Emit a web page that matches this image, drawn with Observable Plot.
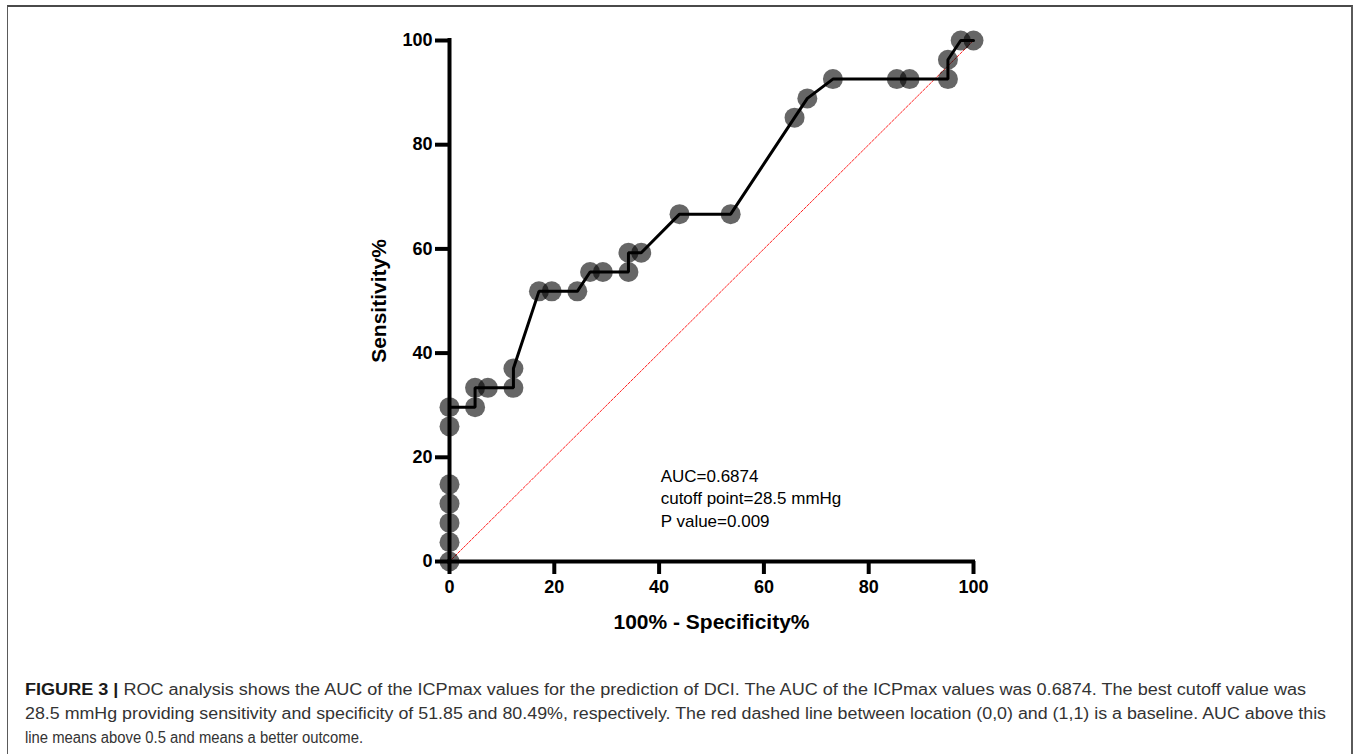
<!DOCTYPE html>
<html>
<head>
<meta charset="utf-8">
<script src="https://cdn.jsdelivr.net/npm/d3@7"></script>
<script src="https://cdn.jsdelivr.net/npm/@observablehq/plot@0.6"></script>
<style>
  html, body { margin: 0; padding: 0; background: #fff; width: 1357px; height: 754px; overflow: hidden; }
  #frame { position: absolute; left: 7px; top: 5px; width: 1346px; height: 800px;
           border-top: 2px solid #4a4a4a; border-left: 1.5px solid #5a5a5a; border-right: 2px solid #5a5a5a; box-sizing: border-box; }
  #chart { position: absolute; left: 0; top: 0; }
  .cap { position: absolute; left: 25px; white-space: nowrap; font-family: "Liberation Sans Narrow", "Arial Narrow", "Liberation Sans", Arial, sans-serif;
         font-size: 16px; color: #333; transform-origin: 0 50%; line-height: 20px; }
  .cap b { color: #1a1a1a; }
</style>
</head>
<body>
<div id="frame"></div>
<div id="chart"></div>
<div id="caption"></div>
<script>
// ROC curve points: 100% - Specificity% (x) and Sensitivity% (y)
const fpr = [0, 0, 0, 0, 0, 0, 0, 4.88, 4.88, 7.32, 12.2, 12.2, 17.07, 19.51, 24.39, 26.83, 29.27, 34.15, 34.15, 36.59, 43.9, 53.66, 65.85, 68.29, 73.17, 85.37, 87.8, 95.12, 95.12, 97.56, 100];
const tpr = [0, 3.7, 7.41, 11.11, 14.81, 25.93, 29.63, 29.63, 33.33, 33.33, 33.33, 37.04, 51.85, 51.85, 51.85, 55.56, 55.56, 55.56, 59.26, 59.26, 66.67, 66.67, 85.19, 88.89, 92.59, 92.59, 92.59, 92.59, 96.3, 100, 100];
const baseline = [0, 100];
const xTicks = [0, 20, 40, 60, 80, 100];
const yTicks = [0, 20, 40, 60, 80, 100];
const xTitle = "100% - Specificity%";
const yTitle = "Sensitivity%";
const annotLines = ["AUC=0.6874", "cutoff point=28.5 mmHg", "P value=0.009"];
const annotPos = {x: 40.3, y: 12.4};
const captionBold = "FIGURE 3 |";
const captionLines = [
  " ROC analysis shows the AUC of the ICPmax values for the prediction of DCI. The AUC of the ICPmax values was 0.6874. The best cutoff value was",
  "28.5 mmHg providing sensitivity and specificity of 51.85 and 80.49%, respectively. The red dashed line between location (0,0) and (1,1) is a baseline. AUC above this",
  "line means above 0.5 and means a better outcome."
];

const points = fpr.map((x, i) => ({x, y: tpr[i]}));

const font = "'Liberation Sans', Arial, Helvetica, sans-serif";
const chart = Plot.plot({
  width: 1357,
  height: 645,
  marginLeft: 449,
  marginRight: 384,
  marginTop: 40,
  marginBottom: 84,
  style: {fontFamily: font, background: "transparent", color: "black", overflow: "visible"},
  x: {domain: [0, 100]},
  y: {domain: [0, 100]},
  marks: [
    Plot.line(baseline, {x: d => d, y: d => d, stroke: "#ff2020", strokeWidth: 1, strokeDasharray: "2.5,1.5"}),
    Plot.line(points, {x: "x", y: "y", stroke: "black", strokeWidth: 3, strokeLinejoin: "miter"}),
    Plot.dot(points, {x: "x", y: "y", r: 10, fill: "black", fillOpacity: 0.6, stroke: "none"}),
    Plot.ruleX([0], {strokeWidth: 4, strokeLinecap: "square"}),
    Plot.ruleY([0], {strokeWidth: 4, strokeLinecap: "square"}),
    Plot.axisX({ticks: xTicks, tickSize: 13, tickPadding: 6, strokeWidth: 4, fontSize: 18, fontWeight: "bold", label: null, fill: "black"}),
    Plot.axisY({ticks: yTicks, tickSize: 14, tickPadding: 3, strokeWidth: 4, fontSize: 18, fontWeight: "bold", label: null, fill: "black"}),
    Plot.text([xTitle], {text: d => d, frameAnchor: "bottom", textAnchor: "middle", dy: 61, fontSize: 21, fontWeight: "bold", lineAnchor: "middle", fill: "black"}),
    Plot.text([yTitle], {text: d => d, frameAnchor: "left", textAnchor: "middle", dx: -70, rotate: -90, fontSize: 21, fontWeight: "bold", lineAnchor: "middle", fill: "black"}),
    Plot.text([annotLines.join("\n")], {text: d => d, x: () => annotPos.x, y: () => annotPos.y, textAnchor: "start", lineAnchor: "middle", lineHeight: 1.32, fontSize: 17, fill: "black"})
  ]
});
document.getElementById("chart").appendChild(chart);

// caption: each line fitted to the width it spans in the reference
const cap = document.getElementById("caption");
const tops = [680, 704, 728];
const targets = [1281, 1301, 338];
captionLines.forEach((t, i) => {
  const div = document.createElement("div");
  div.className = "cap";
  div.style.top = tops[i] + "px";
  if (i === 0) {
    const b = document.createElement("b");
    b.textContent = captionBold;
    div.appendChild(b);
  }
  div.appendChild(document.createTextNode(t));
  cap.appendChild(div);
  const w = div.getBoundingClientRect().width;
  div.style.transform = `scaleX(${targets[i] / w})`;
});
</script>
</body>
</html>
